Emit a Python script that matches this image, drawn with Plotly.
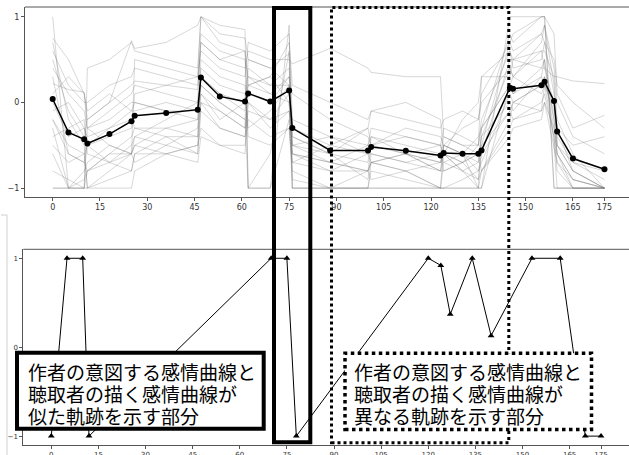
import plotly.graph_objects as go

# ---------------- data ----------------
times = [0, 5, 10, 11, 18, 25, 26, 36, 46, 47, 53, 61, 62, 69, 75, 76, 88, 100, 101, 112,
         123, 124, 130, 135, 136, 145, 146, 155, 156, 159, 160, 165, 175]

mean_curve = [0.04, -0.35, -0.43, -0.48, -0.37, -0.22, -0.155, -0.125, -0.085, 0.29, 0.07, 0.01,
              0.105, 0.01, 0.14, -0.30, -0.56, -0.56, -0.52, -0.565, -0.62, -0.59, -0.60, -0.60,
              -0.56, 0.17, 0.16, 0.20, 0.24, 0.016, -0.34, -0.655, -0.78]

L01 = [1.0, -1.0, -1.0, -0.3, -0.5, -0.6, 0.5, 0.4, 0.3, 1.0, 0.7, 0.6, -1.0, -0.6, 0.6, -1.0, -1.0, -1.0, -0.7, -0.8, -1.0, -0.5, -0.6, -1.0, -0.3, 0.8, 0.7, 1.0, 1.0, -1.0, -1.0, -1.0, -1.0]
L02 = [0.75, 0.5, 0.1, -0.3, -0.1, 0.1, 0.2, 0.1, 0.0, 0.8, 0.6, 0.5, 0.3, 0.2, 0.4, -0.3, -0.5, -0.6, -0.6, -0.7, -0.8, -0.8, -0.7, -0.9, -0.6, 0.5, 0.5, 0.6, 0.6, 0.3, -0.2, -0.6, -1.0]
L03 = [0.7, -0.2, -0.5, -1.0, -0.8, -0.6, -0.5, -0.3, -0.2, 0.4, 0.2, 0.1, -0.3, -0.1, 0.2, -0.6, -0.8, -0.8, -0.7, -0.6, -0.8, -0.5, -0.6, -0.7, -0.4, 0.4, 0.3, 0.7, 0.9, 0.2, -0.5, -0.8, -1.0]
L04 = [0.22, 0.15, 0.12, -0.2, 0.0, 0.2, 0.25, 0.2, 0.15, 0.7, 0.5, 0.4, 0.6, 0.5, 0.5, 0.45, 0.63, 0.4, 0.35, 0.3, 0.3, -0.4, -0.5, -0.5, 0.3, 0.3, 0.5, 0.4, 0.4, 0.3, 0.3, 0.25, 0.22]
L05 = [-0.6, -1.0, -1.0, 0.4, 0.5, 0.7, 0.6, 0.5, 0.4, 1.0, 0.9, 0.85, -1.0, -1.0, 0.9, -1.0, -1.0, -1.0, -1.0, -1.0, -1.0, -1.0, -1.0, -1.0, -1.0, 1.0, 1.0, 1.0, 1.0, -1.0, -1.0, -1.0, -1.0]
L06 = [-1.0, -1.0, -1.0, -1.0, -1.0, -1.0, -0.8, -0.6, -0.5, 0.2, 0.0, -0.2, -1.0, -1.0, -0.2, -1.0, -1.0, -1.0, -1.0, -1.0, -1.0, -1.0, -1.0, -1.0, -1.0, 0.2, 0.1, 0.3, 0.5, -0.5, -1.0, -1.0, -1.0]
L07 = [0.0, -0.4, -0.3, -0.5, -0.4, -0.3, 0.1, 0.2, 0.3, 0.6, 0.4, 0.3, 0.7, 0.6, 0.8, -0.2, -0.4, -0.5, -0.3, -0.4, -0.5, -0.3, -0.4, -0.5, -0.2, 0.6, 0.5, 0.8, 0.9, 0.4, 0.0, -0.4, -0.6]
L08 = [-0.4, -0.3, -0.2, -0.6, -0.7, -0.5, -0.4, -0.2, 0.0, 0.3, 0.1, 0.0, 0.2, 0.3, 0.0, -0.7, -0.5, -0.3, -0.1, 0.0, -0.2, -0.6, -0.2, 0.0, 0.3, 0.6, 0.4, 0.5, 0.7, 0.1, -0.3, -0.8, -1.0]
L09 = [0.5, -0.1, -0.4, -0.2, 0.0, 0.72, 0.63, 0.7, 0.9, 1.0, 0.8, 0.75, 0.5, 0.4, 0.57, -0.5, -0.7, -0.8, -0.5, -0.6, -0.7, -0.6, -0.8, -0.7, -0.5, 0.7, 0.8, 1.0, 1.0, 0.8, 0.1, -0.3, -0.15]
L10 = [-0.2, -0.5, -0.6, -1.0, -0.9, -0.8, -0.6, -0.4, -0.4, 0.5, 0.3, 0.2, -0.4, -0.5, -0.3, -0.8, -1.0, -1.0, -0.8, -0.9, -1.0, -0.7, -0.8, -1.0, -0.8, -0.2, 0.0, 0.2, 0.3, -0.3, -0.6, -1.0, -1.0]
L11 = [0.3, -0.6, -0.7, -0.5, -0.3, -0.1, -0.1, 0.0, -0.1, 0.2, 0.0, -0.2, 0.3, 0.1, 0.3, 0.1, -0.2, -0.4, -0.5, -0.3, -0.4, -0.5, -0.3, -0.2, 0.0, 0.4, 0.3, 0.6, 0.4, 0.0, -0.5, -0.7, -0.8]
L12 = [-0.8, -0.9, -1.0, -0.8, -0.6, -0.4, -0.3, -0.3, -0.4, 0.0, -0.3, -0.4, 0.0, -0.2, 0.1, -0.6, -0.7, -0.5, -0.4, -0.6, -0.5, -0.7, -0.6, -0.4, -0.3, 0.2, 0.1, 0.4, 0.5, -0.2, -0.6, -0.9, -1.0]
L13 = [0.1, 0.3, 0.1, -0.1, 0.1, -0.1, 0.0, -0.1, -0.2, 0.3, 0.1, -0.1, 0.4, 0.2, 0.2, -0.4, -0.6, -0.7, -0.4, -0.5, -0.6, -0.4, -0.5, -0.6, -0.4, 0.0, -0.1, 0.3, 0.2, -0.1, -0.4, -0.7, -0.9]
L14 = [-0.3, -1.0, -0.8, -0.7, -0.5, -0.6, -0.7, -0.5, -0.3, 0.1, -0.1, -0.3, 0.2, 0.1, 0.0, -0.9, -1.0, -0.8, -0.9, -0.8, -1.0, -1.0, -0.9, -0.8, -0.6, -0.1, -0.2, 0.0, 0.1, -0.4, -0.8, -1.0, -1.0]
L15 = [0.4, 0.1, -0.1, -0.3, -0.2, 0.0, 0.0, -0.1, -0.1, 0.1, -0.2, 0.0, 0.5, 0.4, 0.2, -0.4, -0.6, -0.3, -0.5, -0.4, -0.5, -0.6, -0.7, -0.5, -0.3, 0.2, 0.3, 0.1, 0.2, 0.0, -0.3, -0.5, -0.4]
L16 = [-0.5, -0.7, -0.6, -0.5, -0.7, -0.8, -0.6, -0.6, -0.5, -0.3, -0.5, -0.6, 0.0, -0.3, -0.1, -0.5, -0.6, -0.9, -0.6, -0.7, -0.6, -0.8, -0.7, -0.6, -0.8, -0.4, -0.3, -0.2, 0.0, -0.5, -0.7, -0.9, -1.0]
L17 = [-0.1, 0.0, -0.3, -0.4, -0.3, -0.2, -0.3, -0.4, -0.6, 0.0, -0.1, -0.3, 0.1, 0.0, 0.3, -0.5, -0.4, -0.6, -0.5, -0.6, -0.7, -0.5, -0.6, -0.8, -0.7, 0.1, 0.0, 0.2, 0.3, -0.2, -0.5, -0.8, -1.0]
L18 = [-1.0, -1.0, -0.9, -0.8, -0.6, -0.6, -0.5, -0.6, -0.7, -0.4, -0.5, -0.5, -0.2, -0.4, -0.3, -0.7, -0.8, -0.6, -0.7, -0.6, -0.8, -0.6, -0.7, -0.6, -0.5, -0.1, 0.0, -0.1, 0.2, -0.4, -0.7, -1.0, -1.0]
L19 = [0.6, 0.2, 0.0, 0.0, 0.2, 0.3, 0.4, 0.3, 0.2, 0.7, 0.5, 0.6, 0.2, 0.3, 0.7, 0.2, 0.0, -0.2, -0.1, -0.2, -0.3, -0.2, -0.1, -0.2, 0.1, 0.7, 0.6, 0.8, 0.7, 0.5, 0.2, 0.0, -0.3]
L20 = [-0.2, -0.6, -0.7, -0.8, -0.7, -0.6, -0.4, -0.5, -0.6, -0.1, -0.3, -0.4, -0.1, -0.2, -0.1, -0.6, -0.7, -0.8, -0.7, -0.8, -0.7, -0.6, -0.8, -0.9, -0.8, -0.3, -0.2, -0.1, 0.0, -0.3, -0.6, -0.9, -1.0]
listeners = [L01, L02, L03, L04, L05, L06, L07, L08, L09, L10,
             L11, L12, L13, L14, L15, L16, L17, L18, L19, L20]

author_times = [0, 5, 10, 12, 70, 75, 78, 120, 124, 127, 134, 140, 153, 162, 170, 175]
author_curve = [-1, 1, 1, -1, 1, 1, -1, 1, 0.92, 0.37, 1, 0.13, 1, 1, -1, -1]

tick_vals = [0, 15, 30, 45, 60, 75, 90, 105, 120, 135, 150, 165, 175]

text_similar = ["作者の意図する感情曲線と", "聴取者の描く感情曲線が", "似た軌跡を示す部分"]
text_different = ["作者の意図する感情曲線と", "聴取者の描く感情曲線が", "異なる軌跡を示す部分"]

# ---------------- geometry helpers ----------------
W, H = 629, 455
ML, MR, MT, MB = 23, 0, 7, 10
PW, PH = W - ML - MR, H - MT - MB


def px(xp):
    return (xp - ML) / PW


def py(yp):
    return (H - MB - yp) / PH


fig = go.Figure()

for s in listeners:
    fig.add_trace(go.Scatter(x=times, y=s, mode="lines",
                             line=dict(color="rgba(110,110,110,0.28)", width=1),
                             xaxis="x", yaxis="y", hoverinfo="skip"))

fig.add_trace(go.Scatter(x=times, y=mean_curve, mode="lines+markers",
                         line=dict(color="black", width=1.5),
                         marker=dict(color="black", size=6, symbol="circle"),
                         xaxis="x", yaxis="y"))

fig.add_trace(go.Scatter(x=author_times, y=author_curve, mode="lines+markers",
                         line=dict(color="black", width=1),
                         marker=dict(color="black", size=6, symbol="triangle-up"),
                         xaxis="x2", yaxis="y2"))


def axis_style(size):
    return dict(showgrid=False, zeroline=False, showline=True, linecolor="#555",
                linewidth=1, ticks="outside", ticklen=3, tickcolor="#555",
                tickfont=dict(family="DejaVu Sans", color="#333", size=size))


fig.update_layout(
    width=W, height=H, template="none", showlegend=False,
    paper_bgcolor="white", plot_bgcolor="white",
    margin=dict(l=ML, r=MR, t=MT, b=MB),
    xaxis=dict(domain=[px(25), 1], range=[-8.78, 182.78], anchor="y",
               tickvals=tick_vals, **axis_style(8)),
    yaxis=dict(domain=[py(196.7), 1], range=[-1.1, 1.113], anchor="x",
               tickvals=[-1, 0, 1], **axis_style(8)),
    xaxis2=dict(domain=[px(23.3), 1], range=[-8.91, 183.9], anchor="y2",
                tickvals=tick_vals, **axis_style(7)),
    yaxis2=dict(domain=[0, py(249.3)], range=[-1.1, 1.101], anchor="x2",
                tickvals=[-1, 0, 1], **axis_style(7)),
)

shapes = []
# top spines
shapes.append(dict(type="line", xref="x domain", yref="y domain", x0=0, x1=1, y0=1, y1=1,
                   line=dict(color="#555", width=1), layer="above"))
shapes.append(dict(type="line", xref="x2 domain", yref="y2 domain", x0=0, x1=1, y0=1, y1=1,
                   line=dict(color="#555", width=1), layer="above"))
# faint border at far left
shapes.append(dict(type="path", xref="paper", yref="paper",
                   path=f"M {px(1)},{py(215)} L {px(7)},{py(215)} L {px(7)},{py(460)}",
                   line=dict(color="#d0d0d0", width=1), layer="above"))
# solid highlight rectangle
shapes.append(dict(type="rect", xref="paper", yref="paper",
                   x0=px(274), x1=px(310.3), y0=py(442.3), y1=py(8),
                   line=dict(color="black", width=4), fillcolor="rgba(0,0,0,0)", layer="above"))
# dotted highlight rectangle
shapes.append(dict(type="rect", xref="paper", yref="paper",
                   x0=px(331.5), x1=px(508.8), y0=py(442.8), y1=py(7.5),
                   line=dict(color="black", width=3, dash="dot"), fillcolor="rgba(0,0,0,0)", layer="above"))
# text boxes
shapes.append(dict(type="rect", xref="paper", yref="paper",
                   x0=px(17), x1=px(263.7), y0=py(428.7), y1=py(352.7),
                   line=dict(color="black", width=4), fillcolor="white", layer="above"))
shapes.append(dict(type="rect", xref="paper", yref="paper",
                   x0=px(345), x1=px(591.5), y0=py(429.5), y1=py(353.2),
                   line=dict(color="black", width=3.5, dash="dot"), fillcolor="white", layer="above"))
fig.update_layout(shapes=shapes)

annotations = []
line_y = [371.7, 393.3, 415.0]
for txt, yy in zip(text_similar, line_y):
    annotations.append(dict(xref="paper", yref="paper", x=px(25.5), y=py(yy), text=txt,
                            showarrow=False, xanchor="left", yanchor="middle",
                            font=dict(family="Noto Sans CJK JP", size=19, color="black")))
for txt, yy in zip(text_different, line_y):
    annotations.append(dict(xref="paper", yref="paper", x=px(352.3), y=py(yy), text=txt,
                            showarrow=False, xanchor="left", yanchor="middle",
                            font=dict(family="Noto Sans CJK JP", size=19, color="black")))
fig.update_layout(annotations=annotations)

fig.write_html("out.html", config={"displayModeBar": False},
               post_script="document.body.style.margin='0px';document.body.style.overflow='hidden';")
